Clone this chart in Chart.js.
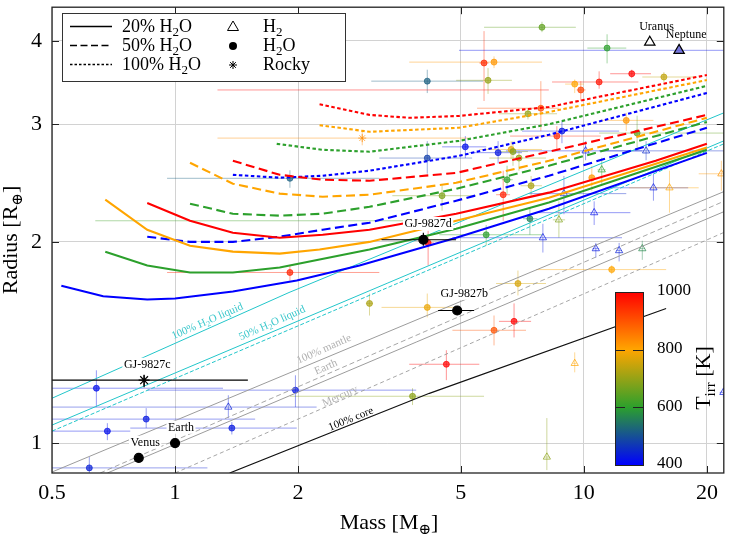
<!DOCTYPE html>
<html><head><meta charset="utf-8">
<script src="https://cdn.jsdelivr.net/npm/chart.js@4.4.1/dist/chart.umd.min.js"></script>
<style>html,body{margin:0;padding:0;background:#fff;}#wrap{width:731px;height:543px;position:relative;}</style>
</head><body><div id="wrap"><canvas id="c" width="731" height="543"></canvas></div>
<script>
// ---------------- axes ----------------
const xTickValues = [0.5, 1, 2, 5, 10, 20];
const xTickLabels = ['0.5', '1', '2', '5', '10', '20'];
const yTickValues = [1, 2, 3, 4];
const yTickLabels = ['1', '2', '3', '4'];
const massRange = [0.5, 22];
const radiusRange = [0.902, 4.49];

// ---------------- model curves (mass, radius) ----------------
// 20% H2O
const w20_1000_m = [0.855, 1.088, 1.385, 1.803, 2.297, 2.99, 4.873, 8.214, 14.99, 20];
const w20_1000_r = [2.287, 2.151, 2.064, 2.029, 2.05, 2.085, 2.204, 2.37, 2.645, 2.804];
const w20_800_m = [0.675, 0.855, 1.088, 1.385, 1.803, 2.257, 2.99, 4.873, 8.214, 20];
const w20_800_r = [2.313, 2.085, 1.974, 1.934, 1.921, 1.948, 2.0, 2.151, 2.328, 2.768];
const w20_600_m = [0.675, 0.855, 1.088, 1.385, 1.803, 2.257, 2.99, 4.873, 8.214, 20];
const w20_600_r = [1.934, 1.844, 1.8, 1.8, 1.831, 1.882, 1.948, 2.092, 2.29, 2.747];
const w20_400_m = [0.527, 0.667, 0.855, 1.0, 1.385, 1.985, 2.827, 4.873, 8.214, 20];
const w20_400_r = [1.72, 1.658, 1.64, 1.646, 1.686, 1.751, 1.844, 2.029, 2.242, 2.718];
// 50% H2O
const w50_1000_m = [1.385, 1.803, 2.297, 2.99, 4.873, 8.214, 20];
const w50_1000_r = [2.645, 2.52, 2.478, 2.469, 2.537, 2.729, 3.098];
const w50_800_m = [1.088, 1.385, 1.803, 2.297, 2.99, 4.873, 8.214, 20];
const w50_800_r = [2.627, 2.444, 2.362, 2.337, 2.353, 2.452, 2.645, 3.067];
const w50_600_m = [1.088, 1.385, 1.803, 2.297, 2.99, 4.873, 8.214, 20];
const w50_600_r = [2.281, 2.204, 2.189, 2.204, 2.257, 2.402, 2.6, 3.024];
const w50_400_m = [0.855, 1.088, 1.385, 1.803, 2.297, 2.99, 4.873, 8.214, 20];
const w50_400_r = [2.036, 2.0, 2.0, 2.036, 2.086, 2.137, 2.305, 2.512, 2.964];
// 100% H2O
const w100_1000_m = [2.257, 2.99, 3.743, 4.952, 8.214, 20];
const w100_1000_r = [3.214, 3.098, 3.067, 3.087, 3.184, 3.555];
const w100_800_m = [2.257, 2.99, 4.952, 8.214, 20];
const w100_800_r = [2.99, 2.923, 2.964, 3.129, 3.493];
const w100_600_m = [1.773, 2.297, 2.99, 4.952, 8.214, 20];
const w100_600_r = [2.804, 2.747, 2.729, 2.833, 3.0, 3.424];
const w100_400_m = [1.385, 1.803, 2.297, 2.99, 4.952, 8.214, 20];
const w100_400_r = [2.52, 2.495, 2.512, 2.556, 2.69, 2.893, 3.341];

// ---------------- reference composition lines ----------------
const liq100_m = [0.5, 1.9, 22];   const liq100_r = [1.167, 1.68, 3.12];
const liq50a_m = [0.5, 22];        const liq50a_r = [1.064, 2.833];
const liq50b_m = [0.5, 22];        const liq50b_r = [1.042, 2.804];
const mantle_m = [0.45, 25];       const mantle_r = [0.881, 2.457];
const earthB_m = [0.656, 25];      const earthB_r = [0.902, 2.38];
const earth_m = [0.683, 25];       const earth_r = [0.902, 2.294];
const mercury_m = [1.0, 25];       const mercury_r = [0.902, 2.138];
const core_m = [1.36, 4.19, 15.9]; const core_r = [0.902, 1.187, 1.59];

// ---------------- observed planets ----------------
const planetMass   = [7.9,11.4,5.70,6.03,5.83,4.14,3.22,13.1,15.7,10.9,9.5,9.83,7.85,7.3,12.7,13.5,8.84,8.59,5.13,6.17,6.64,6.71,6.94,4.14,1.91,2.87,1.91,1.52,6.35,6.49,4.5,7.43,7.38,5.77,4.16,11.06,14.8,16.2,10.1,14.2,10.6,8.94,8.69,21.7,7.94,10.7,12.2,13.9,11.7,6.9,2.99,4.14,6.03,6.75,4.61,3.81,9.5,8.12,21.95,0.642,1.97,1.35,0.85,0.683,1.377,0.617,10.46,17.1];
const planetMassLo = [5.70,10.2,5.55,3.74,4.87,3.02,1.27,11.6,13.9,8.36,9.0,9.6,5.48,6.2,11.0,10.9,7.06,6.6,4.5,5.24,5.55,6.2,5.87,3.16,0.956,1.27,0.956,0.638,6.1,6.3,3.4,7.0,7.1,4.43,4.0,10.8,11.3,12.9,6.45,10.9,7.77,7.34,8.4,19.1,4.77,10.5,12.0,13.7,7.64,6.1,2.93,3.2,4.77,6.2,3.74,1.91,9.4,8.0,21.5,0.45,0.855,0.45,0.45,0.45,0.777,0.45,10.3,4.95];
const planetMassHi = [9.56,12.7,5.85,7.90,6.67,5.67,8.21,14.6,18.8,13.6,10.0,10.1,8.69,8.6,14.8,23,12.2,11.0,5.77,7.06,7.9,7.3,8.08,5.33,3.16,5.24,3.16,4.0,6.6,6.7,5.45,7.9,7.7,7.9,4.3,11.3,18.0,19.1,13.9,23,13.0,12.7,9.0,25,12.4,10.9,12.4,14.1,15.9,8.08,3.05,4.87,7.22,7.43,5.55,5.7,9.6,8.25,22.5,1.31,3.89,2.22,1.57,0.777,1.985,1.2,10.6,30];
const planetRadius   = [4.19,3.90,3.705,3.716,3.49,3.48,3.376,3.57,3.53,3.47,3.445,3.376,3.17,3.11,3.04,2.91,2.93,2.88,2.775,2.72,2.75,2.73,2.67,2.67,2.49,2.86,1.80,2.151,2.353,2.478,2.345,2.427,2.166,2.05,1.993,2.564,2.41,2.41,2.737,2.737,2.212,2.362,2.158,2.529,2.029,1.954,1.941,1.954,1.818,1.733,1.618,1.596,1.475,1.521,1.312,1.175,1.316,0.953,1.191,1.208,1.2,1.132,1.086,1.042,1.053,0.918,2.495,3.87];
const planetRadiusLo = [4.12,3.70,3.25,3.64,3.33,3.34,3.376,3.52,3.47,3.39,3.34,3.25,2.93,3.05,2.93,2.74,2.81,2.74,2.67,2.62,2.66,2.6,2.556,2.53,2.41,2.79,1.75,2.151,2.151,2.36,2.227,2.345,2.05,1.974,1.844,2.444,2.305,2.212,2.65,2.65,2.12,2.2,2.03,2.386,1.928,1.895,1.87,1.88,1.79,1.663,1.552,1.542,1.4,1.439,1.242,1.14,1.276,0.911,1.17,1.132,1.132,1.09,1.053,1.01,1.03,0.887,2.386,3.87];
const planetRadiusHi = [4.27,4.09,4.135,3.79,3.64,3.62,3.376,3.62,3.59,3.60,3.50,3.48,3.48,3.17,3.12,3.09,3.03,2.98,2.88,2.83,2.83,2.83,2.737,2.83,2.56,2.93,1.84,2.151,2.556,2.6,2.43,2.51,2.25,2.12,2.078,2.673,2.529,2.556,2.83,2.83,2.30,2.51,2.3,2.645,2.129,1.993,1.993,2.008,1.845,1.812,1.674,1.674,1.552,1.618,1.377,1.208,1.367,1.09,1.21,1.285,1.263,1.179,1.128,1.071,1.075,0.953,2.6,3.87];
const planetTemp = [650,600,950,820,700,520,1000,1000,740,980,800,920,900,700,820,650,430,950,420,430,780,680,700,480,520,830,960,620,960,600,680,720,560,600,1000,600,430,800,430,450,420,450,680,820,430,430,440,570,800,760,720,780,900,1000,1000,690,800,690,430,420,430,440,430,420,430,440,820,420];
const planetType = ['H2O','H2O','H2O','H2O','H2O','H2O','none','H2O','H2O','H2O','H2O','H2O','H2O','H2O','H2O','H2O','H2O','H2O','H2O','H2O','H2O','H2O','H2O','H2O','H2O','Rocky','H2O','none','H2O','H2O','H2O','H2O','H2O','H2O','H2O','H2','H2','H2','H2','H2','H2','H2','H2','H2','H2','H2','H2','H2','H2O','H2O','H2O','H2O','H2O','H2O','H2O','H2O','H2','H2','H2','H2O','H2O','H2','H2O','H2O','H2O','H2O','H2O','none'];

// GJ 9827 system
const gjNames = ['GJ-9827b', 'GJ-9827c', 'GJ-9827d'];
const gjMass = [4.9, 0.84, 4.05];
const gjMassLo = [4.4, 0.45, 3.2];
const gjMassHi = [5.39, 1.507, 4.87];
const gjRadius = [1.579, 1.242, 2.015];
const gjRadiusLo = [1.56, 1.212, 1.974];
const gjRadiusHi = [1.60, 1.263, 2.064];
const gjType = ['H2O', 'Rocky', 'H2O'];

// Solar system
const solarNames = ['Venus', 'Earth', 'Uranus', 'Neptune'];
const solarMass = [0.815, 1.0, 14.5, 17.1];
const solarRadius = [0.95, 1.0, 3.98, 3.87];

// colour bar
const cbarTicks = [400, 600, 800, 1000];
const cbarTickLabels = ['400', '600', '800', '1000'];

// ---------------- styling ----------------
const SERIF = "'Liberation Serif','Times New Roman','DejaVu Serif',serif";
const cmapStops = [[400,[0,0,255]],[600,[44,160,44]],[800,[255,165,0]],[1000,[255,0,0]]];
function tempRGB(T){
  T=Math.max(400,Math.min(1000,T));
  for(let k=0;k<cmapStops.length-1;k++){
    const [t0,c0]=cmapStops[k],[t1,c1]=cmapStops[k+1];
    if(T<=t1){const f=(T-t0)/(t1-t0);return c0.map((v,j)=>Math.round(v+(c1[j]-v)*f));}
  }
  return cmapStops[cmapStops.length-1][1];
}
function tempColor(T,a){const c=tempRGB(T);return `rgba(${c[0]},${c[1]},${c[2]},${a})`;}
const xy=(ms,rs)=>ms.map((m,i)=>({x:m,y:rs[i]}));

const DASH = {solid:[], dashed:[9,4.5], dotted:[3.5,2.5]};
const models = [
  [w20_1000_m,w20_1000_r,1000,'solid'],[w20_800_m,w20_800_r,800,'solid'],[w20_600_m,w20_600_r,600,'solid'],[w20_400_m,w20_400_r,400,'solid'],
  [w50_1000_m,w50_1000_r,1000,'dashed'],[w50_800_m,w50_800_r,800,'dashed'],[w50_600_m,w50_600_r,600,'dashed'],[w50_400_m,w50_400_r,400,'dashed'],
  [w100_1000_m,w100_1000_r,1000,'dotted'],[w100_800_m,w100_800_r,800,'dotted'],[w100_600_m,w100_600_r,600,'dotted'],[w100_400_m,w100_400_r,400,'dotted']
];
const CYAN='#22c6ca', GRAY='#9c9c9c';
const refLines = [
  [liq100_m,liq100_r,CYAN,[],1],[liq50a_m,liq50a_r,CYAN,[],1],[liq50b_m,liq50b_r,CYAN,[4,2],1],
  [mantle_m,mantle_r,GRAY,[],1],[earthB_m,earthB_r,GRAY,[5,3],0.9],[earth_m,earth_r,GRAY,[],1],
  [mercury_m,mercury_r,GRAY,[4,3],0.9],[core_m,core_r,'#111',[],1.2]
];

const datasets=[];
models.forEach(([m,r,T,st])=>datasets.push({data:xy(m,r),showLine:true,pointRadius:0,borderColor:tempColor(T,1),borderWidth:2.1,borderDash:DASH[st],tension:0,fill:false,order:2}));
refLines.forEach(([m,r,c,d,w])=>datasets.push({data:xy(m,r),showLine:true,pointRadius:0,borderColor:c,borderWidth:w,borderDash:d,tension:0,fill:false,order:3}));

const typeStyle={H2:'triangle',H2O:'circle',Rocky:'star'};
const pts=planetMass.map((m,i)=>({x:m,y:planetRadius[i],i})).filter(p=>planetType[p.i]!=='none');
datasets.push({data:pts,showLine:false,order:5,
  pointStyle:pts.map(p=>typeStyle[planetType[p.i]]),
  pointRadius:pts.map(p=>planetType[p.i]==='H2'?4.2:(planetType[p.i]==='Rocky'?4:3)),
  pointBackgroundColor:pts.map(p=>planetType[p.i]==='H2'?'rgba(255,255,255,0)':tempColor(planetTemp[p.i],0.7)),
  pointBorderColor:pts.map(p=>tempColor(planetTemp[p.i],0.7)),
  pointBorderWidth:1});
datasets.push({data:xy(gjMass,gjRadius),showLine:false,order:0,
  pointStyle:gjType.map(t=>typeStyle[t]),pointRadius:gjType.map(t=>t==='Rocky'?5.5:4.5),
  pointBackgroundColor:'#000',pointBorderColor:'#000',pointBorderWidth:1.2});
datasets.push({data:xy(solarMass,solarRadius),showLine:false,order:0,
  pointStyle:['circle','circle','triangle','triangle'],pointRadius:[4.5,4.5,6,6],
  pointBackgroundColor:['#000','#000','#fff','rgba(90,90,210,0.8)'],pointBorderColor:'#000',pointBorderWidth:1.2});

// ---------------- annotation text ----------------
const pointLabels = [
  {t:'GJ-9827d',m:4.16,r:2.131,bg:true},{t:'GJ-9827b',m:5.10,r:1.675,bg:true},{t:'GJ-9827c',m:0.855,r:1.312,bg:true},
  {t:'Venus',m:0.845,r:1.003,bg:true},{t:'Earth',m:1.034,r:1.056,bg:true},
  {t:'Uranus',m:15.06,r:4.2,bg:false},{t:'Neptune',m:17.8,r:4.09,bg:false}
];
const lineLabels = [
  {segs:[{t:'100% H'},{t:'2',sub:1},{t:'O liquid'}],m:1.197,r:1.526,angle:-23.5,color:'#3cc8cc'},
  {segs:[{t:'50% H'},{t:'2',sub:1},{t:'O liquid'}],m:1.724,r:1.516,angle:-24,color:'#3cc8cc'},
  {segs:[{t:'100% mantle'}],m:2.309,r:1.386,angle:-24,color:'#b0b0b0'},
  {segs:[{t:'Earth'}],m:2.335,r:1.303,angle:-24,color:'#b0b0b0'},
  {segs:[{t:'Mercury'}],m:2.527,r:1.179,angle:-24,color:'#b0b0b0'},
  {segs:[{t:'100% core'}],m:2.687,r:1.09,angle:-22,color:'#000'}
];

function segFont(s,size){return (s.sub?Math.round(size*0.7):size)+'px '+SERIF;}
function richWidth(ctx,segs,size){let w=0;for(const s of segs){ctx.font=segFont(s,size);w+=ctx.measureText(s.t).width;}return w;}
function drawRich(ctx,segs,x,y,size,align){
  const w=richWidth(ctx,segs,size);
  let cx=align==='center'?x-w/2:(align==='right'?x-w:x);
  ctx.textAlign='left';ctx.textBaseline='alphabetic';
  for(const s of segs){ctx.font=segFont(s,size);ctx.fillText(s.t,cx,y+(s.sub?size*0.22:0));cx+=ctx.measureText(s.t).width;}
}

const errPlugin={id:'errbars',
  beforeDatasetsDraw(chart){
    const {ctx,chartArea:a,scales:{x,y}}=chart;
    ctx.save();ctx.beginPath();ctx.rect(a.left,a.top,a.width,a.height);ctx.clip();ctx.lineWidth=1;
    planetMass.forEach((m,i)=>{
      ctx.strokeStyle=tempColor(planetTemp[i],0.42);
      const px=x.getPixelForValue(m),py=y.getPixelForValue(planetRadius[i]);
      ctx.beginPath();
      ctx.moveTo(x.getPixelForValue(planetMassLo[i]),py);ctx.lineTo(x.getPixelForValue(planetMassHi[i]),py);
      ctx.moveTo(px,y.getPixelForValue(planetRadiusLo[i]));ctx.lineTo(px,y.getPixelForValue(planetRadiusHi[i]));
      ctx.stroke();
    });
    ctx.restore();
  },
  afterDatasetsDraw(chart){
    const {ctx,chartArea:a,scales:{x,y}}=chart;
    ctx.save();ctx.beginPath();ctx.rect(a.left,a.top,a.width,a.height);ctx.clip();
    ctx.strokeStyle='#000';ctx.lineWidth=1.2;
    gjMass.forEach((m,i)=>{
      const px=x.getPixelForValue(m),py=y.getPixelForValue(gjRadius[i]);
      ctx.beginPath();
      ctx.moveTo(x.getPixelForValue(gjMassLo[i]),py);ctx.lineTo(x.getPixelForValue(gjMassHi[i]),py);
      ctx.moveTo(px,y.getPixelForValue(gjRadiusLo[i]));ctx.lineTo(px,y.getPixelForValue(gjRadiusHi[i]));
      ctx.stroke();
    });
    lineLabels.forEach(L=>{
      ctx.save();ctx.translate(x.getPixelForValue(L.m),y.getPixelForValue(L.r));ctx.rotate(L.angle*Math.PI/180);
      ctx.fillStyle=L.color;drawRich(ctx,L.segs,0,4,11,'center');ctx.restore();
    });
    ctx.font='12px '+SERIF;ctx.textAlign='center';ctx.textBaseline='middle';
    pointLabels.forEach(L=>{
      const px=x.getPixelForValue(L.m),py=y.getPixelForValue(L.r);
      const w=ctx.measureText(L.t).width;
      if(L.bg){ctx.fillStyle='#fff';ctx.fillRect(px-w/2-1.5,py-6.5,w+3,13);}
      ctx.fillStyle='#000';ctx.fillText(L.t,px,py+0.5);
    });
    ctx.restore();
  },
  afterDraw(chart){
    const {ctx,chartArea:a,scales:{x,y}}=chart;
    ctx.save();
    ctx.strokeStyle='#222';ctx.lineWidth=1.3;ctx.setLineDash([]);
    ctx.strokeRect(a.left,a.top,a.width,a.height);
    ctx.lineWidth=1;ctx.beginPath();
    xTickValues.forEach(v=>{const p=Math.round(x.getPixelForValue(v))+0.5;if(p<=a.left+1||p>=a.right-1)return;ctx.moveTo(p,a.bottom);ctx.lineTo(p,a.bottom-7);ctx.moveTo(p,a.top);ctx.lineTo(p,a.top+7);});
    yTickValues.forEach(v=>{const p=Math.round(y.getPixelForValue(v))+0.5;ctx.moveTo(a.left,p);ctx.lineTo(a.left+7,p);ctx.moveTo(a.right,p);ctx.lineTo(a.right-7,p);});
    ctx.stroke();
    ctx.fillStyle='#000';
    drawRich(ctx,[{t:'Mass [M'},{t:'⊕',sub:1},{t:']'}],389,529,22,'center');
    ctx.save();ctx.translate(17,240);ctx.rotate(-Math.PI/2);
    drawRich(ctx,[{t:'Radius [R'},{t:'⊕',sub:1},{t:']'}],0,0,22,'center');ctx.restore();
    // legend
    const LX=62,LY=13,LW=283,LH=68;
    ctx.fillStyle='#fff';ctx.fillRect(LX,LY,LW,LH);ctx.strokeStyle='#333';ctx.lineWidth=1;ctx.strokeRect(LX+0.5,LY+0.5,LW,LH);
    const rows=[26,45,64];
    const lstyles=[[],[7,3.5],[2.5,2]];
    const ltexts=[[{t:'20% H'},{t:'2',sub:1},{t:'O'}],[{t:'50% H'},{t:'2',sub:1},{t:'O'}],[{t:'100% H'},{t:'2',sub:1},{t:'O'}]];
    rows.forEach((ry,k)=>{
      ctx.strokeStyle='#000';ctx.lineWidth=1.6;ctx.setLineDash(lstyles[k]);
      ctx.beginPath();ctx.moveTo(70,ry+0.5);ctx.lineTo(112,ry+0.5);ctx.stroke();ctx.setLineDash([]);
      ctx.fillStyle='#000';drawRich(ctx,ltexts[k],122,ry+6,18,'left');
    });
    ctx.lineWidth=1;ctx.strokeStyle='#000';
    ctx.beginPath();ctx.moveTo(233,rows[0]-5);ctx.lineTo(238.5,rows[0]+4.5);ctx.lineTo(227.5,rows[0]+4.5);ctx.closePath();ctx.stroke();
    ctx.beginPath();ctx.arc(233,rows[1]+1,4,0,Math.PI*2);ctx.fill();
    ctx.beginPath();for(let k=0;k<4;k++){const an=k*Math.PI/4;ctx.moveTo(233-4*Math.cos(an),rows[2]+1-4*Math.sin(an));ctx.lineTo(233+4*Math.cos(an),rows[2]+1+4*Math.sin(an));}ctx.stroke();
    drawRich(ctx,[{t:'H'},{t:'2',sub:1}],263,rows[0]+6,18,'left');
    drawRich(ctx,[{t:'H'},{t:'2',sub:1},{t:'O'}],263,rows[1]+6,18,'left');
    drawRich(ctx,[{t:'Rocky'}],263,rows[2]+6,18,'left');
    // colour bar
    const CB={l:615,t:292,w:28,h:173};
    const g=ctx.createLinearGradient(0,CB.t+CB.h,0,CB.t);
    cmapStops.forEach(([T,c])=>g.addColorStop((T-400)/600,`rgb(${c[0]},${c[1]},${c[2]})`));
    ctx.fillStyle=g;ctx.fillRect(CB.l,CB.t,CB.w,CB.h);
    ctx.strokeStyle='#222';ctx.lineWidth=1;ctx.strokeRect(CB.l+0.5,CB.t+0.5,CB.w,CB.h);
    ctx.font='17px '+SERIF;ctx.textAlign='left';ctx.textBaseline='middle';
    cbarTicks.forEach((T,k)=>{
      const ty=CB.t+CB.h-(T-400)/600*CB.h;
      if(T>400&&T<1000){ctx.setLineDash([10,8]);ctx.beginPath();ctx.moveTo(CB.l,Math.round(ty)+0.5);ctx.lineTo(CB.l+CB.w,Math.round(ty)+0.5);ctx.strokeStyle='#222';ctx.stroke();ctx.setLineDash([]);}
      ctx.fillStyle='#000';ctx.fillText(cbarTickLabels[k],CB.l+CB.w+14,ty-1);
    });
    ctx.save();ctx.translate(710,378);ctx.rotate(-Math.PI/2);ctx.fillStyle='#000';
    drawRich(ctx,[{t:'T'},{t:'irr',sub:1},{t:' [K]'}],0,0,22,'center');ctx.restore();
    ctx.restore();
  }
};

new Chart(document.getElementById('c'),{
  type:'scatter',
  data:{datasets},
  options:{
    responsive:false,animation:false,devicePixelRatio:1,events:[],
    layout:{padding:{top:6,right:6,left:0,bottom:0}},
    plugins:{legend:{display:false},tooltip:{enabled:false}},
    scales:{
      x:{type:'logarithmic',min:massRange[0],max:massRange[1],position:'bottom',
        afterBuildTicks:s=>{s.ticks=xTickValues.map(v=>({value:v}));},
        afterFit:s=>{s.height=70;s.paddingLeft=0;s.paddingRight=0;},
        ticks:{callback:v=>{const i=xTickValues.indexOf(v);return i>=0?xTickLabels[i]:'';},font:{family:SERIF,size:22},color:'#000',padding:7,maxRotation:0,autoSkip:false},
        grid:{color:'#d2d2d2',lineWidth:1,drawTicks:false},border:{display:false}},
      y:{type:'logarithmic',min:radiusRange[0],max:radiusRange[1],
        afterBuildTicks:s=>{s.ticks=yTickValues.map(v=>({value:v}));},
        afterFit:s=>{s.width=52;s.paddingTop=0;s.paddingBottom=0;},
        ticks:{callback:v=>{const i=yTickValues.indexOf(v);return i>=0?yTickLabels[i]:'';},font:{family:SERIF,size:22},color:'#000',padding:10,autoSkip:false},
        grid:{color:'#d2d2d2',lineWidth:1,drawTicks:false},border:{display:false}}
    }
  },
  plugins:[errPlugin]
});
</script></body></html>
